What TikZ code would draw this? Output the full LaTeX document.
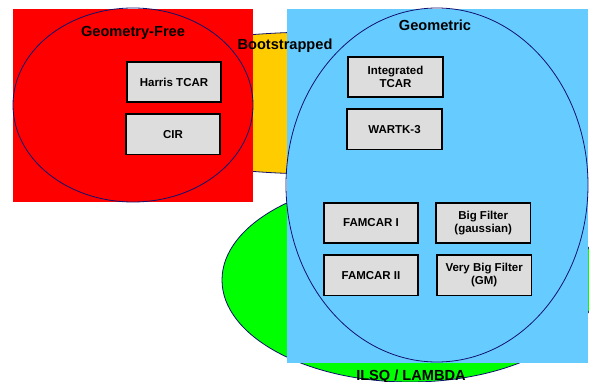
\documentclass[tikz,border=0pt]{standalone}
\usepackage{fontspec}
\setmainfont{Liberation Sans}
\usetikzlibrary{positioning, shapes.geometric}

\definecolor{setline}{HTML}{101070}
\definecolor{freered}{HTML}{FF0000}
\definecolor{bootyellow}{HTML}{FFCC00}
\definecolor{geomblue}{HTML}{66CCFF}
\definecolor{ilsqgreen}{HTML}{00FF00}
\definecolor{boxgray}{HTML}{DDDDDD}

\begin{document}
\begin{tikzpicture}[x=1pt, y=-1pt,
    setarea/.style={ellipse, draw=setline, line width=0.8pt, inner sep=0pt},
    panel/.style={rectangle, inner sep=0pt, anchor=north west},
    method/.style={rectangle, draw=black, line width=1.7pt, fill=boxgray, minimum width=94.5pt, minimum height=40.5pt, align=center, inner sep=1pt, font=\fontsize{11.5}{13}\selectfont\bfseries},
    settitle/.style={anchor=base, font=\fontsize{14.6}{16}\selectfont\bfseries}
]
\useasboundingbox (0,0) rectangle (589,382);

% ==== Background sets ====
\node[setarea, fill=ilsqgreen, minimum width=376pt, minimum height=204pt] (ilsq) at (410,280) {};
\node[setarea, fill=bootyellow, minimum width=500pt, minimum height=142pt] (boot) at (320,103) {};

% ==== Geometry-free panel ====
\node[panel, fill=freered, minimum width=240pt, minimum height=193pt] (freepanel) at (13,9) {};
\node[setarea, minimum width=240pt, minimum height=194pt] (freeset) at (133,105) {};

% ==== Geometric panel ====
\node[panel, fill=geomblue, minimum width=301pt, minimum height=354pt] (geompanel) at (287,9) {};
\node[setarea, minimum width=302pt, minimum height=354pt] (geomset) at (437,185) {};

% ==== Set titles ====
\node[settitle] (freetitle) at (133,36.5) {Geometry-Free};
\node[settitle] (boottitle) at (285,50) {Bootstrapped};
\node[settitle] (geomtitle) at (435,31) {Geometric};
\node[settitle] (ilsqtitle) at (411,380) {ILSQ / LAMBDA};

% ==== Methods ====
\node[method] (harris) at (174,82) {Harris TCAR};
\node[method, below=10pt of harris.south, anchor=north, xshift=-1pt] (cir) {CIR};

\node[method] (itcar) at (395.5,77) {Integrated\\TCAR};
\node[method, below=10pt of itcar.south, anchor=north, xshift=-1pt] (wartk) {WARTK-3};

\node[method] (famcar1) at (371,223) {FAMCAR I};
\node[method, right=16pt of famcar1] (bigfilter) {Big Filter\\(gaussian)};
\node[method, below=10pt of famcar1] (famcar2) {FAMCAR II};
\node[method, right=17pt of famcar2] (vbigfilter) {Very Big Filter\\(GM)};

\end{tikzpicture}
\end{document}
